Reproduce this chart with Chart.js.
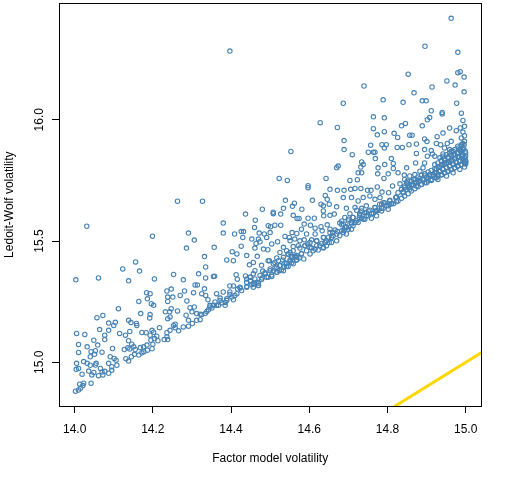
<!DOCTYPE html>
<html>
<head>
<meta charset="utf-8">
<script src="https://cdn.jsdelivr.net/npm/chart.js@4.4.1/dist/chart.umd.min.js"></script>
<style>
  html, body { margin: 0; padding: 0; background: #fff; }
</style>
</head>
<body>
<canvas id="myChart" width="512" height="480"></canvas>
<script>
// Factor model volatility (x) vs Ledoit-Wolf volatility (y)
const lowerLeft = [
  [14.332,15.436],[14.156,15.414],[14.123,15.385],[14.166,15.376],[14.003,15.340],[14.061,15.348],[14.138,15.336],[14.204,15.344],[14.253,15.362],[14.317,15.365],
  [14.335,15.393],[14.335,15.348],[14.278,15.340],[14.308,15.319],[14.314,15.319],[14.332,15.303],[14.247,15.302],[14.236,15.294],[14.184,15.287],[14.193,15.283],
  [14.270,15.276],[14.281,15.294],[14.304,15.287],[14.325,15.283],[14.335,15.276],[14.251,15.269],[14.238,15.269],[14.186,15.262],[14.164,15.251],[14.196,15.242],
  [14.202,15.235],[14.238,15.251],[14.287,15.253],[14.341,15.258],[14.112,15.221],[14.169,15.201],[14.193,15.197],[14.192,15.183],[14.232,15.208],[14.247,15.221],
  [14.243,15.208],[14.263,15.212],[14.295,15.225],[14.306,15.228],[14.300,15.208],[14.312,15.201],[14.321,15.198],[14.334,15.201],[14.342,15.217],[14.057,15.184],
  [14.072,15.193],[14.138,15.173],[14.144,15.164],[14.158,15.160],[14.159,15.152],[14.087,15.162],[14.104,15.165],[14.100,15.152],[14.238,15.180],[14.244,15.187],
  [14.285,15.194],[14.291,15.173],[14.312,15.173],[14.321,15.176],[14.064,15.135],[14.087,15.132],[14.115,15.119],[14.141,15.127],[14.172,15.123],[14.183,15.122],
  [14.198,15.132],[14.202,15.124],[14.217,15.143],[14.193,15.112],[14.210,15.108],[14.236,15.122],[14.244,15.132],[14.253,15.152],[14.257,15.157],[14.257,15.143],
  [14.266,15.130],[14.278,15.146],[14.291,15.149],[14.301,15.160],[14.005,15.119],[14.026,15.115],[14.077,15.112],[14.077,15.094],[14.049,15.091],[14.130,15.112],
  [14.138,15.089],[14.146,15.075],[14.151,15.064],[14.155,15.053],[14.168,15.061],[14.176,15.064],[14.185,15.071],[14.195,15.091],[14.204,15.098],[14.213,15.089],
  [14.229,15.094],[14.236,15.105],[14.238,15.094],[14.010,15.074],[14.032,15.064],[14.059,15.071],[14.042,15.044],[14.053,15.048],[14.070,15.042],[14.097,15.057],
  [14.127,15.053],[14.136,15.060],[14.141,15.055],[14.131,15.015],[14.138,15.005],[14.145,15.023],[14.153,15.033],[14.164,15.030],[14.172,15.039],[14.177,15.044],
  [14.186,15.050],[14.198,15.056],[14.200,15.075],[14.010,15.041],[14.040,15.023],[14.051,15.033],[14.091,15.023],[14.101,15.016],[14.106,15.009],[14.108,14.988],
  [14.095,14.982],[14.087,14.996],[14.005,14.996],[14.023,15.003],[14.032,14.996],[14.040,14.988],[14.053,14.989],[14.055,14.996],[14.066,14.975],[14.070,14.960],
  [14.010,14.975],[14.004,14.971],[14.019,14.951],[14.036,14.964],[14.044,14.948],[14.049,14.958],[14.061,14.945],[14.072,14.948],[14.077,14.963],[14.087,14.955],
  [14.095,14.967],[14.013,14.910],[14.021,14.904],[14.023,14.914],[14.042,14.914],[14.015,14.893],[14.010,14.886],[14.002,14.881]
];

const middle = [
  [14.523,15.758],[14.544,15.750],[14.643,15.758],[14.597,15.728],[14.597,15.720],[14.653,15.713],[14.672,15.709],[14.327,15.664],[14.539,15.668],[14.608,15.668],
  [14.641,15.688],[14.646,15.672],[14.630,15.652],[14.636,15.645],[14.651,15.652],[14.670,15.641],[14.562,15.656],[14.557,15.643],[14.534,15.635],[14.581,15.631],
  [14.480,15.631],[14.437,15.611],[14.508,15.619],[14.508,15.613],[14.527,15.611],[14.559,15.606],[14.569,15.593],[14.574,15.593],[14.597,15.594],[14.613,15.594],
  [14.636,15.624],[14.637,15.604],[14.653,15.606],[14.664,15.611],[14.462,15.586],[14.380,15.574],[14.495,15.563],[14.501,15.559],[14.512,15.565],[14.527,15.565],
  [14.587,15.570],[14.603,15.565],[14.615,15.553],[14.630,15.559],[14.646,15.567],[14.678,15.574],[14.460,15.556],[14.426,15.539],[14.432,15.539],[14.380,15.533],
  [14.409,15.529],[14.472,15.533],[14.485,15.529],[14.500,15.535],[14.556,15.535],[14.568,15.531],[14.580,15.549],[14.593,15.529],[14.615,15.529],[14.633,15.542],
  [14.653,15.549],[14.660,15.535],[14.672,15.539],[14.678,15.522],[14.430,15.515],[14.453,15.508],[14.470,15.508],[14.474,15.497],[14.491,15.515],[14.504,15.488],
  [14.519,15.497],[14.538,15.519],[14.549,15.515],[14.551,15.501],[14.563,15.508],[14.576,15.501],[14.587,15.505],[14.606,15.505],[14.619,15.501],[14.637,15.515],
  [14.649,15.515],[14.661,15.522],[14.670,15.501],[14.357,15.474],[14.426,15.479],[14.464,15.490],[14.483,15.467],[14.494,15.464],[14.461,15.471],[14.525,15.453],
  [14.534,15.474],[14.542,15.460],[14.551,15.453],[14.559,15.477],[14.572,15.481],[14.589,15.481],[14.596,15.488],[14.602,15.474],[14.615,15.467],[14.627,15.481],
  [14.640,15.494],[14.651,15.494],[14.403,15.456],[14.415,15.447],[14.440,15.440],[14.467,15.437],[14.406,15.419],[14.389,15.422],[14.498,15.419],[14.517,15.430],
  [14.532,15.422],[14.546,15.447],[14.555,15.436],[14.568,15.433],[14.580,15.447],[14.586,15.426],[14.602,15.447],[14.610,15.460],[14.623,15.463],[14.636,15.471],
  [14.447,15.402],[14.457,15.412],[14.478,15.400],[14.495,15.419],[14.512,15.412],[14.525,15.399],[14.542,15.406],[14.551,15.417],[14.568,15.422],[14.574,15.430],
  [14.355,15.354],[14.358,15.355],[14.413,15.361],[14.416,15.343],[14.437,15.356],[14.449,15.351],[14.457,15.365],[14.461,15.378],[14.481,15.376],[14.487,15.365],
  [14.500,15.385],[14.508,15.378],[14.517,15.392],[14.523,15.378],[14.535,15.392],[14.546,15.395],[14.559,15.406],[14.440,15.330],[14.450,15.335],[14.461,15.324],
  [14.470,15.326],[14.479,15.348],[14.495,15.351],[14.504,15.354],[14.517,15.371],[14.534,15.378],[14.397,15.315],[14.406,15.315],[14.417,15.302],[14.440,15.313],
  [14.457,15.310],[14.470,15.317],[14.363,15.283],[14.380,15.290],[14.397,15.280],[14.410,15.276],[14.423,15.306],[14.372,15.265],[14.389,15.262],[14.406,15.258],
  [14.385,15.247],[14.359,15.249],[14.355,15.235],[14.368,15.235],[14.385,15.235],[14.346,15.228]
];

const envelope = [
  [14.325,15.197],[14.338,15.210],[14.351,15.224],[14.363,15.235],[14.376,15.246],[14.389,15.255],[14.402,15.269],[14.415,15.283],[14.427,15.296],[14.440,15.310],
  [14.453,15.320],[14.466,15.330],[14.478,15.341],[14.491,15.351],[14.504,15.360],[14.517,15.371],[14.529,15.382],[14.542,15.396],[14.555,15.410],[14.568,15.423],
  [14.346,15.235],[14.372,15.255],[14.397,15.290],[14.423,15.310],[14.449,15.337],[14.461,15.344],[14.474,15.358],[14.487,15.369],[14.500,15.378],[14.512,15.388],
  [14.525,15.399],[14.538,15.410],[14.551,15.423],[14.563,15.437],[14.449,15.351],[14.457,15.324],[14.470,15.317],[14.440,15.344],[14.508,15.406],[14.521,15.419],
  [14.534,15.433],[14.546,15.446],
  [14.555,15.430],[14.568,15.440],[14.580,15.449],[14.593,15.460],[14.606,15.471],[14.619,15.481],[14.632,15.490],[14.644,15.501],[14.657,15.515],[14.670,15.529],
  [14.683,15.542],[14.695,15.556],[14.708,15.570],[14.721,15.583],[14.734,15.594],[14.746,15.604],[14.759,15.613],[14.772,15.624],[14.785,15.635],[14.797,15.645],
  [14.810,15.654],[14.823,15.662],
  [14.559,15.460],[14.576,15.471],[14.589,15.481],[14.602,15.494],[14.619,15.501],[14.636,15.515],[14.653,15.535],[14.666,15.545],[14.687,15.570],[14.700,15.583],
  [14.712,15.597],[14.729,15.611],[14.742,15.617],[14.755,15.627],[14.768,15.638],[14.780,15.652],[14.793,15.658],[14.806,15.668],[14.821,15.679],
  [14.644,15.481],[14.657,15.494],[14.636,15.474],[14.721,15.627],[14.734,15.635],[14.746,15.645],[14.704,15.613],[14.691,15.597]
];

const upper = [
  [14.912,16.037],[14.940,16.030],[14.940,16.024],[14.989,16.027],[14.764,16.012],[14.792,16.008],[14.908,16.009],[14.902,16.000],[14.846,15.985],[14.836,15.975],
  [14.889,15.975],[14.993,15.997],[14.997,15.973],[14.986,15.966],[14.672,15.968],[14.764,15.963],[14.792,15.951],[14.774,15.938],[14.817,15.944],[14.826,15.927],
  [14.857,15.936],[14.863,15.936],[14.927,15.930],[14.942,15.945],[14.959,15.966],[14.976,15.955],[14.993,15.949],[14.997,15.934],[14.895,15.921],[14.901,15.910],
  [14.874,15.900],[14.855,15.897],[14.925,15.902],[14.936,15.897],[14.953,15.902],[14.963,15.911],[14.989,15.925],[14.689,15.914],[14.689,15.877],[14.757,15.895],
  [14.786,15.897],[14.797,15.897],[14.792,15.884],[14.825,15.886],[14.838,15.886],[14.993,15.902],[14.895,15.877],[14.874,15.861],[14.912,15.873],[14.915,15.859],
  [14.946,15.884],[14.959,15.877],[14.751,15.866],[14.764,15.866],[14.768,15.866],[14.710,15.856],[14.769,15.840],[14.810,15.840],[14.902,15.850],[14.921,15.850],
  [14.942,15.859],[14.734,15.826],[14.738,15.815],[14.674,15.809],[14.670,15.802],[14.732,15.805],[14.776,15.802],[14.793,15.815],[14.815,15.820],[14.815,15.799],
  [14.849,15.802],[14.872,15.822],[14.895,15.822],[14.827,15.781],[14.802,15.777],[14.775,15.777],[14.725,15.781],[14.734,15.781],[14.723,15.753],[14.791,15.758],
  [14.843,15.772],[14.704,15.750],[14.689,15.709],[14.706,15.713],[14.717,15.717],[14.732,15.717],[14.749,15.709],[14.758,15.709],[14.774,15.723],[14.786,15.702],
  [14.803,15.699],[14.813,15.727],[14.832,15.736],[14.851,15.747],[14.687,15.679],[14.708,15.679],[14.725,15.665],[14.738,15.679],[14.755,15.686],[14.768,15.672],
  [14.781,15.679],[14.789,15.658],[14.806,15.652],[14.695,15.635],[14.717,15.638],[14.734,15.624],[14.751,15.624],[14.769,15.624],[14.785,15.624],[14.802,15.631],
  [14.683,15.583],[14.700,15.590],[14.712,15.597],[14.728,15.597],[14.742,15.590],[14.759,15.594],[14.772,15.604],[14.683,15.567],[14.695,15.559],[14.708,15.549],
  [14.695,15.529],[14.717,15.576],[14.689,15.545]
];

const denseEdge = [
  [14.687,15.535],[14.700,15.549],[14.712,15.563],[14.725,15.576],[14.738,15.590],[14.751,15.604],[14.764,15.615],[14.776,15.627],[14.789,15.635],[14.802,15.645],
  [14.815,15.654],[14.827,15.665],[14.836,15.676],[14.844,15.686],[14.853,15.695],[14.861,15.706],[14.870,15.716],[14.878,15.724],[14.887,15.734],[14.895,15.740],
  [14.904,15.747],[14.912,15.754],[14.921,15.761],[14.929,15.768],[14.938,15.774],[14.946,15.781],[14.955,15.788],[14.963,15.795],[14.972,15.802],[14.980,15.809],
  [14.989,15.815],[14.997,15.822],[15.000,15.825],
  [14.691,15.556],[14.708,15.576],[14.729,15.604],[14.746,15.617],[14.768,15.638],[14.785,15.652],[14.806,15.665],[14.823,15.682],[14.840,15.699],[14.849,15.713],
  [14.857,15.723],[14.866,15.731],[14.874,15.740],[14.883,15.747],[14.891,15.754],[14.900,15.761],[14.908,15.768],[14.917,15.774],[14.925,15.781],[14.934,15.788],
  [14.942,15.795],[14.951,15.802],[14.959,15.809],[14.968,15.815],[14.976,15.822],[14.985,15.829],[14.993,15.832],[15.000,15.832],
  [14.827,15.699],[14.836,15.713],[14.844,15.727],[14.853,15.736],[14.861,15.747],[14.870,15.754],[14.878,15.764],[14.887,15.772],[14.895,15.777],[14.904,15.785],
  [14.912,15.791],[14.921,15.799],[14.929,15.805],[14.938,15.813],[14.946,15.818],[14.955,15.825],[14.963,15.832],[14.972,15.840],[14.980,15.846],[14.989,15.850],
  [14.997,15.843],
  [14.921,15.815],[14.929,15.822],[14.938,15.832],[14.946,15.840],[14.955,15.846],[14.963,15.854],[14.972,15.859],[14.980,15.863],[14.989,15.867],[14.993,15.856],
  [14.985,15.877],[14.968,15.870],[14.959,15.863],[14.951,15.856],[14.942,15.850],[14.934,15.843],
  [14.982,15.884],[14.989,15.891],[14.996,15.897],[14.993,15.877],[14.999,15.870]
];

const denseCore = [
  [14.836,15.713],[14.844,15.720],[14.853,15.727],[14.849,15.740],[14.861,15.733],[14.870,15.740],[14.866,15.754],[14.878,15.747],[14.883,15.758],[14.891,15.754],
  [14.895,15.768],[14.904,15.761],[14.908,15.774],[14.917,15.768],[14.912,15.750],[14.921,15.781],[14.929,15.774],[14.925,15.761],[14.934,15.788],[14.938,15.772],
  [14.942,15.795],[14.946,15.781],[14.951,15.802],[14.955,15.788],[14.959,15.809],[14.963,15.795],[14.968,15.818],[14.972,15.802],[14.976,15.826],[14.980,15.809],
  [14.985,15.832],[14.989,15.815],[14.993,15.840],[14.997,15.822],[15.000,15.829],[15.000,15.818],[15.000,15.850],[14.991,15.856],[14.983,15.845],[14.974,15.840],
  [14.966,15.832],[14.959,15.829],[14.951,15.822],[14.942,15.813],[14.934,15.805],[14.925,15.799],[14.986,15.873],[14.995,15.884],[14.978,15.863],[14.969,15.856],
  [15.000,15.863],[14.887,15.733],[14.900,15.740],[14.874,15.727],[14.857,15.713],[14.840,15.703],[14.929,15.754],[14.951,15.768],[14.968,15.781],[14.985,15.795],
  [14.997,15.805],[14.955,15.843],[14.946,15.832],[14.938,15.829],[14.883,15.788],[14.891,15.802],[14.870,15.774],[14.857,15.768],[14.844,15.754],[14.989,15.897],
  [14.997,15.911],[14.980,15.891],[14.972,15.877],[14.963,15.870]
];

const outliers = [
  [14.963,16.418],[14.896,16.303],[14.980,16.278],[14.853,16.188],[14.980,16.194],[14.986,16.198],[14.996,16.176],[14.952,16.160],[14.973,16.143],[14.740,16.139],
  [14.914,16.135],[14.868,16.111],[14.996,16.115],[14.789,16.082],[14.687,16.068],[14.840,16.072],[14.889,16.078],[14.899,16.078],[14.977,16.068],
  [14.397,16.283],[14.628,15.988],[14.553,15.869],[14.263,15.664],[14.031,15.561],[14.199,15.520],[14.291,15.533],[14.306,15.504],[14.286,15.471]
];

// 45-degree reference line (y = x)
const diagonal = [14.7, 15.1];

const xTickValues = [14.0, 14.2, 14.4, 14.6, 14.8, 15.0];
const yTickValues = [15.0, 15.5, 16.0];
const xTitle = 'Factor model volatility';
const yTitle = 'Ledoit-Wolf volatility';

const FONT = '"Liberation Sans", Arial, sans-serif';

const points = [lowerLeft, middle, envelope, upper, denseEdge, denseCore, outliers]
  .flat()
  .map(p => ({x: p[0], y: p[1]}));

const rFrame = {
  id: 'rFrame',
  afterDraw(chart) {
    const {ctx, chartArea: a, scales: {y}} = chart;
    ctx.save();
    ctx.strokeStyle = '#000';
    ctx.lineWidth = 1;
    ctx.strokeRect(Math.round(a.left) + 0.5, Math.round(a.top) + 0.5,
                   Math.round(a.right - a.left), Math.round(a.bottom - a.top));
    ctx.fillStyle = '#000';
    ctx.font = '12px ' + FONT;
    ctx.textAlign = 'center';
    ctx.textBaseline = 'alphabetic';
    // y tick labels, parallel to the axis
    y.ticks.forEach(t => {
      ctx.save();
      ctx.translate(a.left - 16.5, y.getPixelForValue(t.value));
      ctx.rotate(-Math.PI / 2);
      ctx.fillText(t.value.toFixed(1), 0, 0);
      ctx.restore();
    });
    ctx.fillText(xTitle, (a.left + a.right) / 2, a.bottom + 55.5);
    ctx.translate(13, (a.top + a.bottom) / 2);
    ctx.rotate(-Math.PI / 2);
    ctx.fillText(yTitle, 0, 0);
    ctx.restore();
  }
};

const ctx = document.getElementById('myChart').getContext('2d');
const myChart = new Chart(ctx, {
  type: 'scatter',
  data: {
    datasets: [{
      data: points,
      pointStyle: 'circle',
      pointRadius: 2.2,
      pointHoverRadius: 2.2,
      pointBorderWidth: 1.1,
      borderColor: '#4682B4',
      backgroundColor: 'rgba(0,0,0,0)'
    }, {
      type: 'line',
      data: diagonal.map(v => ({x: v, y: v})),
      borderColor: '#FFD700',
      borderWidth: 3,
      pointRadius: 0,
      fill: false
    }]
  },
  options: {
    responsive: false,
    animation: false,
    devicePixelRatio: 1,
    layout: { padding: { left: 0, top: 1.5, right: 30.7, bottom: 0 } },
    plugins: { legend: { display: false }, tooltip: { enabled: false } },
    events: [],
    scales: {
      x: {
        type: 'linear',
        min: 13.96,
        max: 15.04,
        afterBuildTicks: s => { s.ticks = xTickValues.map(v => ({value: v})); },
        afterFit: s => { s.height = 74; },
        grid: { drawOnChartArea: false, drawTicks: true, tickLength: 7, color: '#000' },
        border: { display: false },
        ticks: {
          autoSkip: false,
          maxRotation: 0,
          padding: 9,
          color: '#000',
          font: { family: FONT, size: 12 },
          callback: v => v.toFixed(1)
        }
      },
      y: {
        type: 'linear',
        min: 14.82,
        max: 16.48,
        afterBuildTicks: s => { s.ticks = yTickValues.map(v => ({value: v})); },
        afterFit: s => { s.width = 59; },
        grid: { drawOnChartArea: false, drawTicks: true, tickLength: 7, color: '#000' },
        border: { display: false },
        ticks: { display: false }
      }
    }
  },
  plugins: [rFrame]
});
</script>
</body>
</html>
